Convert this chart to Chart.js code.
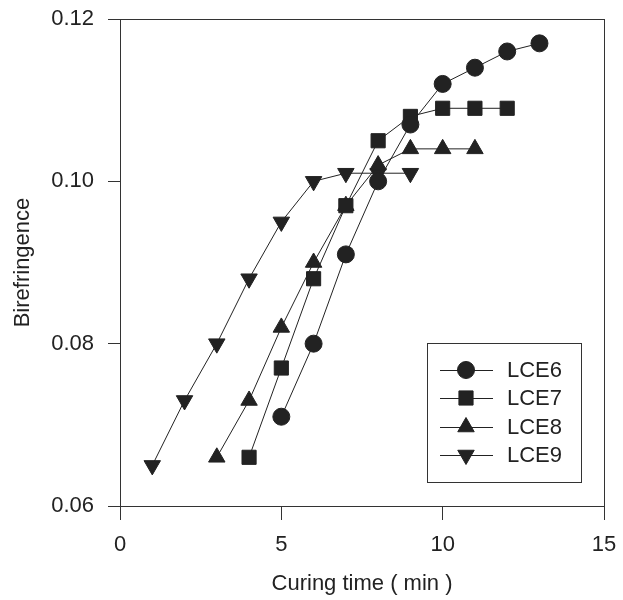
<!DOCTYPE html>
<html>
<head>
<meta charset="utf-8">
<style>
  body { margin: 0; background: #fff; }
  #wrap { width: 623px; height: 600px; }
</style>
<script src="https://cdn.jsdelivr.net/npm/chart.js@4/dist/chart.umd.min.js"></script>
</head>
<body>
<div id="wrap"><canvas id="myChart" width="623" height="600"></canvas></div>
<script>
// data
const seriesNames = ['LCE6', 'LCE7', 'LCE8', 'LCE9'];

const lce6Time = [5, 6, 7, 8, 9, 10, 11, 12, 13];
const lce6Biref = [0.071, 0.080, 0.091, 0.100, 0.107, 0.112, 0.114, 0.116, 0.117];

const lce7Time = [4, 5, 6, 7, 8, 9, 10, 11, 12];
const lce7Biref = [0.066, 0.077, 0.088, 0.097, 0.105, 0.108, 0.109, 0.109, 0.109];

const lce8Time = [3, 4, 5, 6, 7, 8, 9, 10, 11];
const lce8Biref = [0.066, 0.073, 0.082, 0.090, 0.097, 0.102, 0.104, 0.104, 0.104];

const lce9Time = [1, 2, 3, 4, 5, 6, 7, 8, 9];
const lce9Biref = [0.065, 0.073, 0.080, 0.088, 0.095, 0.100, 0.101, 0.101, 0.101];

const xTicks = [0, 5, 10, 15];
const yTicks = [0.06, 0.08, 0.10, 0.12];

const ink = '#222';
const fontFamily = '"Liberation Sans", Arial, Helvetica, sans-serif';

function toPoints(xs, ys) {
  return xs.map((x, i) => ({ x: x, y: ys[i] }));
}

function makeSet(label, xs, ys, style, radius, rotation) {
  return {
    label: label,
    data: toPoints(xs, ys),
    borderColor: ink,
    backgroundColor: ink,
    borderWidth: 1,
    pointStyle: style,
    pointRadius: radius,
    pointRotation: rotation || 0,
    pointBackgroundColor: ink,
    pointBorderColor: ink,
    pointBorderWidth: 1,
    showLine: true,
    tension: 0
  };
}

// frame around plot area
const boxPlugin = {
  id: 'box',
  afterDraw(chart) {
    const a = chart.chartArea;
    const ctx = chart.ctx;
    ctx.save();
    ctx.strokeStyle = '#333';
    ctx.lineWidth = 1;
    ctx.strokeRect(Math.round(a.left) + 0.5, Math.round(a.top) + 0.5,
      Math.round(a.right - a.left), Math.round(a.bottom - a.top));
    ctx.restore();
  }
};

// legend drawn inside the plot, lower right
const insideLegend = {
  id: 'insideLegend',
  afterDraw(chart) {
    const ctx = chart.ctx;
    const bx = 427, by = 343, bw = 154, bh = 139;
    ctx.save();
    ctx.fillStyle = '#fff';
    ctx.fillRect(bx, by, bw, bh);
    ctx.strokeStyle = '#333';
    ctx.lineWidth = 1;
    ctx.strokeRect(bx + 0.5, by + 0.5, bw, bh);
    const rowY = [370, 398, 427, 455];
    chart.data.datasets.forEach((ds, i) => {
      const y = rowY[i];
      ctx.strokeStyle = ink;
      ctx.lineWidth = 1;
      ctx.beginPath();
      ctx.moveTo(440, y + 0.5);
      ctx.lineTo(493, y + 0.5);
      ctx.stroke();
      ctx.fillStyle = ink;
      Chart.helpers.drawPoint(ctx, {
        pointStyle: ds.pointStyle,
        radius: ds.pointRadius,
        rotation: ds.pointRotation,
        borderWidth: 1
      }, 466, y);
      ctx.fillStyle = ink;
      ctx.font = '22px ' + fontFamily;
      ctx.textAlign = 'left';
      ctx.textBaseline = 'middle';
      ctx.fillText(ds.label, 507, y + 1);
    });
    ctx.restore();
  }
};

const ctx = document.getElementById('myChart').getContext('2d');
const myChart = new Chart(ctx, {
  type: 'scatter',
  data: {
    datasets: [
      makeSet(seriesNames[0], lce6Time, lce6Biref, 'circle', 8.5),
      makeSet(seriesNames[1], lce7Time, lce7Biref, 'rect', 10),
      makeSet(seriesNames[2], lce8Time, lce8Biref, 'triangle', 9.5),
      makeSet(seriesNames[3], lce9Time, lce9Biref, 'triangle', 9.5, 180)
    ]
  },
  options: {
    responsive: false,
    animation: false,
    layout: { autoPadding: false, padding: { top: 19, right: 19, left: 0, bottom: 0 } },
    plugins: {
      legend: { display: false },
      tooltip: { enabled: false }
    },
    scales: {
      x: {
        type: 'linear',
        min: 0,
        max: 15,
        afterBuildTicks: (scale) => { scale.ticks = xTicks.map(v => ({ value: v })); },
        afterFit: (scale) => {
          scale.height = 94;
          scale.paddingLeft = 0;
          scale.paddingRight = 0;
        },
        grid: { display: true, drawOnChartArea: false, drawTicks: true, tickLength: 14, color: '#333' },
        border: { display: true, color: '#333' },
        ticks: { color: ink, padding: 12, font: { family: fontFamily, size: 22 } },
        title: {
          display: true,
          text: 'Curing time ( min )',
          color: ink,
          font: { family: fontFamily, size: 22, lineHeight: 1.2 },
          padding: { top: 0, bottom: 3 }
        }
      },
      y: {
        type: 'linear',
        min: 0.06,
        max: 0.12,
        afterBuildTicks: (scale) => { scale.ticks = yTicks.map(v => ({ value: v })); },
        afterFit: (scale) => {
          scale.width = 120;
          scale.paddingTop = 0;
          scale.paddingBottom = 0;
        },
        grid: { display: true, drawOnChartArea: false, drawTicks: true, tickLength: 12, color: '#333' },
        border: { display: true, color: '#333' },
        ticks: {
          color: ink,
          padding: 14,
          font: { family: fontFamily, size: 22 },
          callback: (v) => Number(v).toFixed(2)
        },
        title: {
          display: true,
          text: 'Birefringence',
          color: ink,
          font: { family: fontFamily, size: 22, lineHeight: 1.2 },
          padding: { top: 10, bottom: 0 }
        }
      }
    }
  },
  plugins: [boxPlugin, insideLegend]
});
</script>
</body>
</html>
